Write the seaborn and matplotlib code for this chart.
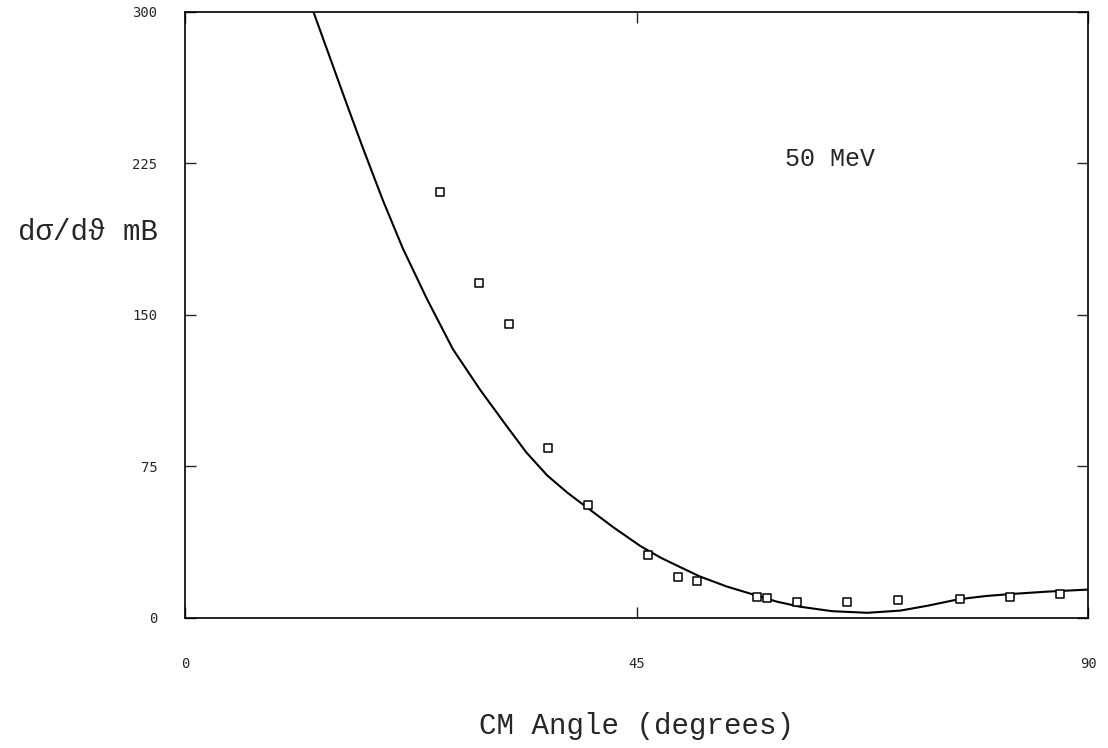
import matplotlib
matplotlib.use("Agg")
import matplotlib.pyplot as plt
import seaborn as sns
import pandas as pd

# measured data points (CM angle in degrees, cross section in mb)
data_angle = [25.4, 29.3, 32.3, 36.2, 40.2, 46.1, 49.1, 51.0, 57.0, 58.0,
              61.0, 66.0, 71.1, 77.2, 82.2, 87.2]
data_xsec = [210.7, 165.6, 145.4, 84.2, 56.0, 31.0, 20.3, 18.0, 10.5, 10.0,
             7.9, 7.8, 8.8, 9.3, 10.3, 11.7]

# theoretical curve
curve_angle = [12.8, 16.0, 17.7, 19.7, 21.7, 24.1, 26.7, 29.4, 31.9, 34.0, 36.1,
               38.1, 40.1, 42.7, 45.4, 47.4, 49.4, 51.3, 54.0, 57.0, 59.0, 61.3,
               64.5, 68.0, 71.3, 74.0, 77.1, 79.8, 82.3, 86.0, 90.0]
curve_xsec = [300.0, 256.0, 233.0, 207.0, 183.0, 158.0, 133.0, 113.0, 96.0, 82.0, 70.5,
              62.0, 54.5, 44.8, 35.5, 29.8, 25.0, 20.5, 15.5, 11.0, 8.0, 5.5,
              3.3, 2.5, 3.6, 6.0, 9.2, 10.8, 11.8, 13.0, 14.0]

x_ticks = [0, 45, 90]
y_ticks = [0, 75, 150, 225, 300]

df_pts = pd.DataFrame({"angle": data_angle, "xsec": data_xsec})
df_curve = pd.DataFrame({"angle": curve_angle, "xsec": curve_xsec})

sns.set_style("ticks")
plt.rcParams["font.family"] = ["Liberation Mono", "DejaVu Sans Mono", "DejaVu Sans"]

fig = plt.figure(figsize=(11.08, 7.48), dpi=100)
ax = fig.add_axes([0.167, 0.174, 0.815, 0.810])

sns.lineplot(data=df_curve, x="angle", y="xsec", ax=ax, color="black",
             linewidth=1.5, sort=False, estimator=None)
sns.scatterplot(data=df_pts, x="angle", y="xsec", ax=ax, marker="s", s=30,
                facecolor="white", edgecolor="black", linewidth=1.1, zorder=3)

ax.set_xlim(0, 90)
ax.set_ylim(0, 300)
ax.set_xticks(x_ticks)
ax.set_yticks(y_ticks)
ax.set_xticklabels([str(v) for v in x_ticks], fontsize=10,
                   family=["DejaVu Sans Mono"])
ax.set_yticklabels([str(v) for v in y_ticks], fontsize=10,
                   family=["DejaVu Sans Mono"])
ax.tick_params(axis="x", direction="in", length=8, width=1.0, pad=28,
               top=True, bottom=True)
ax.tick_params(axis="y", direction="in", length=8, width=1.0, pad=20,
               left=True, right=True)

for sp in ax.spines.values():
    sp.set_linewidth(1.2)
    sp.set_color("black")

ax.set_xlabel("CM Angle (degrees)", fontsize=21, labelpad=30)
ax.set_ylabel("")
fig.text(0.079, 0.69, "dσ/dϑ mB", fontsize=21, ha="center", va="center")
ax.text(0.664, 0.757, "50 MeV", transform=ax.transAxes, fontsize=18,
        ha="left", va="center")

fig.savefig("out.png", dpi=100, facecolor="white")
